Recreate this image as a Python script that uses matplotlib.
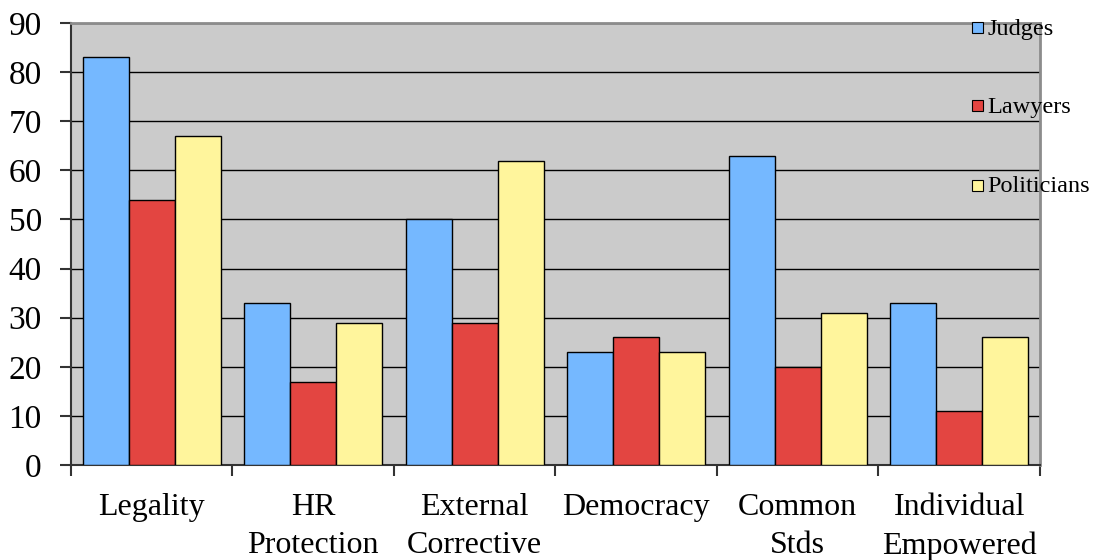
import matplotlib
matplotlib.use("Agg")
import matplotlib.pyplot as plt
import numpy as np
from matplotlib.patches import Rectangle

categories = ["Legality", "HR\nProtection", "External\nCorrective", "Democracy", "Common\nStds", "Individual\nEmpowered"]
judges = [83, 33, 50, 23, 63, 33]
lawyers = [54, 17, 29, 26, 20, 11]
politicians = [67, 29, 62, 23, 31, 26]
series_names = ["Judges", "Lawyers", "Politicians"]
colors = ["#75B8FF", "#E34541", "#FFF59C"]

plt.rcParams['font.family'] = ['Liberation Serif', 'DejaVu Serif']

fig = plt.figure(figsize=(10.94, 5.6), dpi=100)
ax = fig.add_axes([0.0649, 0.1696, 0.8857, 0.7893])
ax.set_facecolor("#CBCBCB")

x = np.arange(len(categories))
w = 0.285
for i, (vals, c) in enumerate(zip([judges, lawyers, politicians], colors)):
    ax.bar(x + (i - 1) * w, vals, width=w, color=c, edgecolor="black", linewidth=1.0, zorder=3)

ax.set_xlim(-0.5, len(categories) - 0.5)
ax.set_ylim(0, 90)
ax.set_yticks(range(0, 91, 10))
ax.yaxis.grid(True, color="black", linewidth=1.0, zorder=1)
ax.set_axisbelow(True)

ax.set_xticks(x)
ax.set_xticklabels(categories, fontsize=23, linespacing=1.42)
ax.tick_params(axis='x', which='major', length=0, pad=20)
ax.set_xticks(np.arange(-0.5, len(categories), 1), minor=True)
ax.tick_params(axis='x', which='minor', length=8, width=1.5, direction='out', color='#333333')
ax.tick_params(axis='y', labelsize=24, length=8, width=1.5, color='#333333', pad=13)

for s in ["left", "bottom"]:
    ax.spines[s].set_color("#333333")
    ax.spines[s].set_linewidth(1.5)
for s in ["top", "right"]:
    ax.spines[s].set_color("#8C8C8C")
    ax.spines[s].set_linewidth(2)

# legend
leg_y = [29, 107, 187]
for name, c, yp in zip(series_names, colors, leg_y):
    fig.patches.append(Rectangle((972 / 1094, 1 - (yp + 4) / 560), 11 / 1094, 11 / 560,
                                 transform=fig.transFigure, facecolor=c, edgecolor="black",
                                 linewidth=0.8, zorder=5))
    fig.text(987 / 1094, 1 - yp / 560, name, fontsize=17.5, va="center", ha="left")

fig.savefig("out.png", dpi=100)
